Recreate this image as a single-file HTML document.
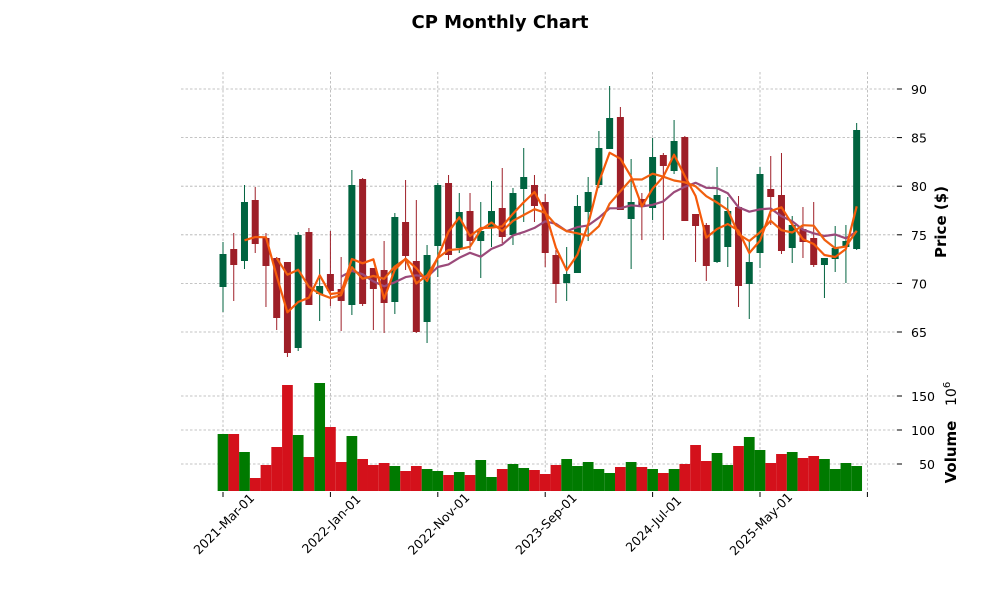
<!DOCTYPE html>
<html><head><meta charset="utf-8"><style>
html,body{margin:0;padding:0;background:#fff;}
svg text{font-family:"DejaVu Sans","Liberation Sans",sans-serif;}
</style></head><body>
<svg id="s" width="1000" height="600" xmlns="http://www.w3.org/2000/svg">
<rect width="1000" height="600" fill="#fff"/>
<text x="500" y="28" text-anchor="middle" font-size="18" font-weight="bold">CP Monthly Chart</text>
<g id="grid" stroke="#b0b0b0" stroke-width="0.8" stroke-dasharray="2.5,2"></g>
<g id="vol"></g>
<g id="cand"></g>
<g id="ma" fill="none" stroke-width="2.2" stroke-linejoin="round"></g>
<g id="ax" font-size="12.5"></g>
<text transform="translate(946,222) rotate(-90)" text-anchor="middle" font-size="15" font-weight="bold">Price ($)</text>
<text transform="translate(956,452) rotate(-90)" text-anchor="middle" font-size="15" font-weight="bold">Volume</text>
<text transform="translate(956,406) rotate(-90)" text-anchor="start" font-size="14">10<tspan dy="-6" font-size="10">6</tspan></text>
</svg>
<script>
var NS="http://www.w3.org/2000/svg";
function el(p,t,a,txt){var e=document.createElementNS(NS,t);for(var k in a)e.setAttribute(k,a[k]);if(txt!=null)e.textContent=txt;document.getElementById(p).appendChild(e);return e;}
var C=[[254,287,242,312,1],[249,265,233,301,0],[202,261,185,269,1],[200,244,187,253,0],[238,266,233,307,0],[258,318,257,330,0],[262,353,262,357,0],[235,348,232,351,1],[232,305,228,305,0],[286,294,259,321,1],
[274,291,231,306,0],[289,301,257,331,0],[185,305,170,315,1],[179,304,178,306,0],[268,289,268,330,0],[270,303,241,333,0],[217,302,213,314,1],[222,256,180,270,0],[261,332,200,333,0],[255,322,245,343,1],
[185,246,183,277,1],[183,255,175,260,0],[212,248,193,253,1],[211,241,193,250,0],[231,241,202,278,1],[211,227,181,247,1],[208,237,168,243,0],[193,235,188,245,1],[177,189,148,222,1],[185,206,175,222,0],
[202,253,194,267,0],[255,284,250,303,0],[274,283,247,301,1],[206,273,195,273,1],[192,212,177,241,1],[148,185,131,188,1],[118,149,86,149,1],[117,210,107,210,0],[202,219,159,269,1],[199,207,193,240,0],
[157,208,138,220,1],[155,166,153,240,0],[141,171,120,174,1],[137,221,136,221,0],[214,226,214,262,0],[225,266,223,281,0],[195,262,167,263,1],[211,247,197,267,1],[207,286,196,307,0],[262,284,240,319,1],
[174,253,167,268,1],[189,197,156,225,0],[195,251,153,254,0],[225,248,216,263,1],[229,242,207,258,0],[238,265,202,267,0],[258,265,258,298,1],[248,259,226,272,1],[241,247,225,283,1],[130,249,123,250,1]];
var V=[434,434,452,478,465,447,385,435,457,383,427,462,436,459,465,463,466,471,466,469,471,475,472,475,460,477,469,464,468,470,474,465,459,466,462,469,473,467,462,467,469,473,469,464,445,461,453,465,446,437,450,463,454,452,458,456,459,469,463,466];
var dx=10.74,x0=223;
[89,137.6,186.2,234.8,283.4,332].forEach(function(y){el('grid','line',{x1:181,x2:897,y1:y,y2:y});});
[396,430,464].forEach(function(y){el('grid','line',{x1:181,x2:897,y1:y,y2:y});});
[0,10,20,30,40,50,60].forEach(function(i){var x=x0+dx*i;el('grid','line',{x1:x,x2:x,y1:72,y2:370});el('grid','line',{x1:x,x2:x,y1:375,y2:492});});
C.forEach(function(c,i){var x=x0+dx*i;el('vol','rect',{x:x-dx/2,y:V[i],width:dx,height:491-V[i],fill:c[4]?'#007a00':'#d4111b'});});
C.forEach(function(c,i){var x=x0+dx*i,col=c[4]?'#00633f':'#9e1f28';
el('cand','line',{x1:x,x2:x,y1:c[2],y2:c[3],stroke:col,'stroke-width':1});
el('cand','rect',{x:x-3.5,y:c[0],width:7,height:Math.max(1,c[1]-c[0]),fill:col});});
var cl=C.map(function(c){return c[4]?c[0]:c[1];});
function ma(n,col){var p='';for(var i=n-1;i<cl.length;i++){var s=0;for(var j=i-n+1;j<=i;j++)s+=cl[j];p+=(p?'L':'M')+(x0+dx*i).toFixed(1)+','+(s/n).toFixed(1);}el('ma','path',{d:p,stroke:col});}
ma(12,'#9b4a7a');ma(6,'#f0600f');ma(3,'#f55a0a');
[[90,89],[85,137.6],[80,186.2],[75,234.8],[70,283.4],[65,332]].forEach(function(a){el('ax','line',{x1:897,x2:902,y1:a[1],y2:a[1],stroke:'#000'});el('ax','text',{x:911,y:a[1]+5},a[0]);});
[[150,396],[100,430],[50,464]].forEach(function(a){el('ax','line',{x1:897,x2:902,y1:a[1],y2:a[1],stroke:'#000'});el('ax','text',{x:935,y:a[1]+5,'text-anchor':'end'},a[0]);});
var L=['2021-Mar-01','2022-Jan-01','2022-Nov-01','2023-Sep-01','2024-Jul-01','2025-May-01'];
[0,10,20,30,40,50,60].forEach(function(i,k){var x=x0+dx*i;el('ax','line',{x1:x,x2:x,y1:492,y2:497,stroke:'#000'});
if(L[k])el('ax','text',{transform:'translate('+(x+4)+',527) rotate(-45)','text-anchor':'middle'},L[k]);});
</script>
</body></html>
